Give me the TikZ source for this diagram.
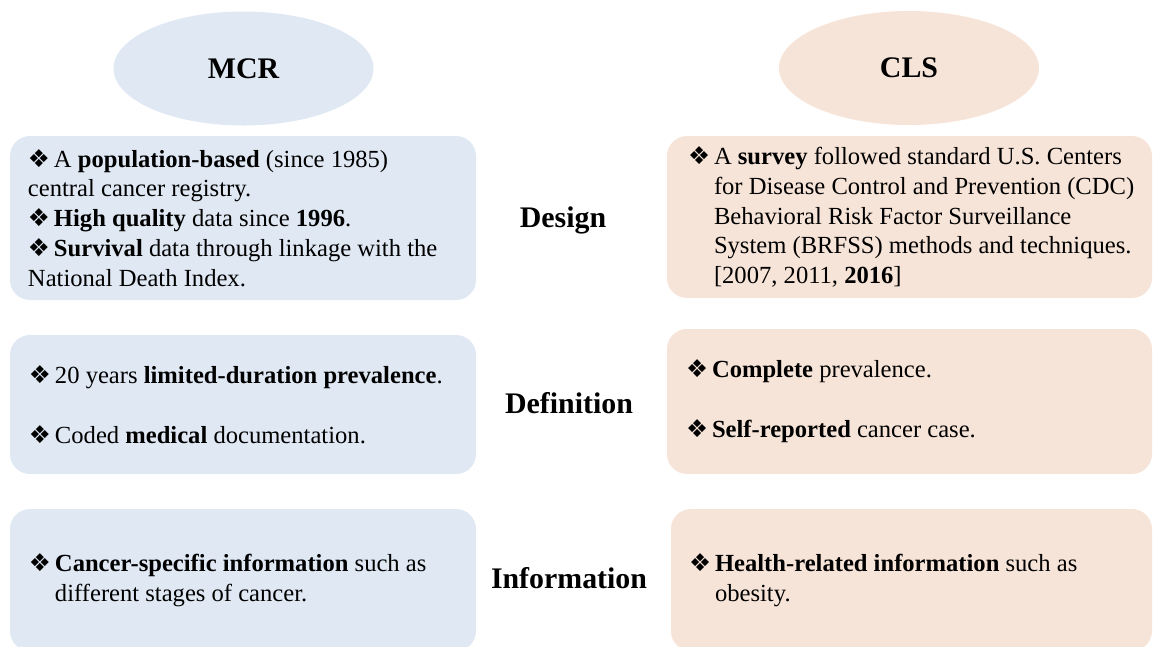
\documentclass[tikz,border=0pt]{standalone}
\usepackage{fontspec}
\setmainfont{Liberation Serif}
\newfontfamily\diafont{DejaVu Sans}
\usetikzlibrary{positioning,shapes.geometric}
\definecolor{mcrBlue}{HTML}{DFE8F3}
\definecolor{clsPeach}{HTML}{F7E4D8}
\newcommand{\dia}{\makebox[0.52cm][l]{\diafont\fontsize{14}{17}\selectfont ❖}}
\newcommand{\ind}{\hspace*{0.52cm}}

\begin{document}
\begin{tikzpicture}[font=\fontsize{14}{17}\selectfont,
    head/.style={font=\fontsize{17}{20}\selectfont\bfseries},
    oval/.style={ellipse,minimum width=5.2cm,minimum height=2.28cm,head},
    panel/.style={rounded corners=0.4cm,inner sep=0pt},
    body/.style={anchor=west,align=left,inner sep=0pt}]
  \useasboundingbox (0,0) rectangle (23.08,-12.92);
  % headers
  \node[oval,fill=mcrBlue] (mcr) at (4.87,-1.37) {MCR};
  \node[oval,fill=clsPeach] (cls) at (18.18,-1.36) {CLS};
  % left column
  \node[panel,fill=mcrBlue,minimum width=9.32cm,minimum height=3.28cm] (mcrDesign) at (4.86,-4.36) {};
  \node[panel,fill=mcrBlue,minimum width=9.32cm,minimum height=2.78cm] (mcrDef) at (4.86,-8.09) {};
  \node[panel,fill=mcrBlue,minimum width=9.32cm,minimum height=2.84cm] (mcrInfo) at (4.86,-11.6) {};
  % right column
  \node[panel,fill=clsPeach,minimum width=9.7cm,minimum height=3.24cm] (clsDesign) at (18.19,-4.34) {};
  \node[panel,fill=clsPeach,minimum width=9.7cm,minimum height=2.9cm] (clsDef) at (18.19,-8.03) {};
  \node[panel,fill=clsPeach,minimum width=9.62cm,minimum height=2.84cm] (clsInfo) at (18.23,-11.6) {};
  % row labels
  \node[head,anchor=base] (design) at (11.26,-4.54) {Design};
  \node[head,anchor=base] (definition) at (11.38,-8.26) {Definition};
  \node[head,anchor=base] (information) at (11.38,-11.76) {Information};
  % panel texts
  \node[body] (mcrDesignTxt) at ([xshift=0.36cm]mcrDesign.west)
    {\dia A \textbf{population-based} (since 1985)\\
     central cancer registry.\\
     \dia\textbf{High quality} data since \textbf{1996}.\\
     \dia\textbf{Survival} data through linkage with the\\
     National Death Index.};
  \node[body] (mcrDefTxt) at ([xshift=0.38cm]mcrDef.west)
    {\dia 20 years \textbf{limited-duration prevalence}.\\[17pt]
     \dia Coded \textbf{medical} documentation.};
  \node[body] (mcrInfoTxt) at ([xshift=0.38cm]mcrInfo.west)
    {\dia\textbf{Cancer-specific information} such as\\
     \ind different stages of cancer.};
  \node[body] (clsDesignTxt) at ([xshift=0.42cm]clsDesign.west)
    {\dia A \textbf{survey} followed standard U.S. Centers\\
     \ind for Disease Control and Prevention (CDC)\\
     \ind Behavioral Risk Factor Surveillance\\
     \ind System (BRFSS) methods and techniques.\\
     \ind [2007, 2011, \textbf{2016}]};
  \node[body] (clsDefTxt) at ([xshift=0.38cm]clsDef.west)
    {\dia\textbf{Complete} prevalence.\\[17pt]
     \dia\textbf{Self-reported} cancer case.};
  \node[body] (clsInfoTxt) at ([xshift=0.36cm]clsInfo.west)
    {\dia\textbf{Health-related information} such as\\
     \ind obesity.};
\end{tikzpicture}
\end{document}
